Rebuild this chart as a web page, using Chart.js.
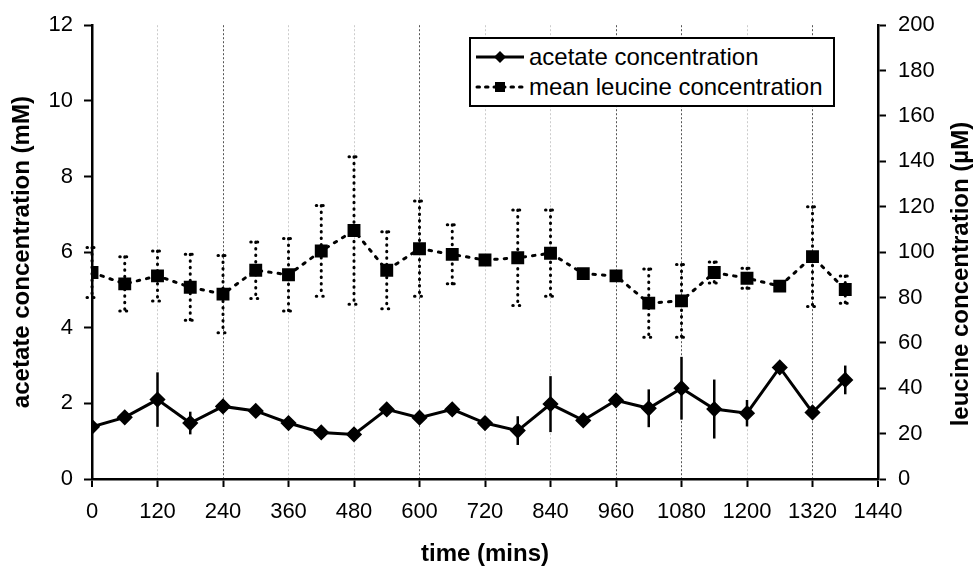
<!DOCTYPE html>
<html>
<head>
<meta charset="utf-8">
<script src="https://cdn.jsdelivr.net/npm/chart.js@4.4.1/dist/chart.umd.min.js"></script>
<style>
    html, body { margin: 0; padding: 0; background: #fff; }
    #wrap { position: relative; width: 977px; height: 569px; }
    #legend {
        position: absolute; left: 469px; top: 37px; width: 362px; height: 66px;
        border: 2px solid #000; background: #fff;
        font-family: "Liberation Sans", Arial, sans-serif; font-size: 24px; color: #000;
    }
    #legend .row { position: absolute; left: 4px; height: 30px; display: flex; align-items: center; white-space: nowrap; }
    #legend svg { margin-right: 4px; }
</style>
</head>
<body>
<div id="wrap">
    <canvas id="chart" width="977" height="569"></canvas>
    <div id="legend">
        <div class="row" style="top: 3px;">
            <svg width="50" height="14"><line x1="1" y1="7" x2="49" y2="7" stroke="#000" stroke-width="3"/><polygon points="25,1 31,7 25,13 19,7" fill="#000"/></svg>
            <span>acetate concentration</span>
        </div>
        <div class="row" style="top: 33px;">
            <svg width="50" height="14"><line x1="2" y1="7" x2="49" y2="7" stroke="#000" stroke-width="3" stroke-dasharray="2.5 6" stroke-linecap="round"/><rect x="20" y="2" width="10" height="10" fill="#000"/></svg>
            <span>mean leucine concentration</span>
        </div>
    </div>
</div>
<script>
// data
const times = [0, 60, 120, 180, 240, 300, 360, 420, 480, 540, 600, 660, 720, 780, 840, 900, 960, 1020, 1080, 1140, 1200, 1260, 1320, 1380];
const acetate = [1.38, 1.63, 2.1, 1.48, 1.92, 1.8, 1.48, 1.23, 1.18, 1.84, 1.62, 1.84, 1.48, 1.28, 1.98, 1.55, 2.08, 1.87, 2.4, 1.85, 1.74, 2.95, 1.76, 2.62];
const acetateErr = [0, 0, 0.72, 0.3, 0, 0, 0, 0, 0, 0, 0, 0, 0, 0.38, 0.74, 0, 0, 0.5, 0.83, 0.78, 0.35, 0, 0, 0.38];
const leucine = [91, 86, 89.5, 84.5, 81.5, 92, 90, 100.5, 109.5, 92, 101.5, 99, 96.5, 97.5, 99.5, 90.5, 89.5, 77.5, 78.5, 91, 88.5, 85, 98, 83.5];
const leucineErr = [11, 12, 11, 14.5, 17, 12.5, 16, 20, 32.5, 17, 21, 13, 0, 21, 19, 0, 0, 15, 16, 4.6, 4.4, 0, 22, 6];
const xTicks = [0, 120, 240, 360, 480, 600, 720, 840, 960, 1080, 1200, 1320, 1440];
const darkGrid = [240, 600, 960, 1080, 1320];

const FONT = '"Liberation Sans", Arial, sans-serif';

// vertical error bars drawn through the dataset's own y scale
const errorBars = {
    id: 'errorBars',
    afterDatasetsDraw(chart) {
        const ctx = chart.ctx;
        chart.data.datasets.forEach((ds, i) => {
            if (!ds.errors) return;
            const xs = chart.scales.x;
            const ys = chart.scales[ds.yAxisID];
            ctx.save();
            ctx.strokeStyle = '#000';
            ctx.lineWidth = ds.errDashed ? 3 : 2.5;
            ctx.lineCap = ds.errDashed ? 'round' : 'butt';
            ctx.setLineDash(ds.errDashed ? [0.5, 6] : []);
            ds.data.forEach((p, j) => {
                const e = ds.errors[j];
                if (!e) return;
                const x = xs.getPixelForValue(p.x);
                const y1 = ys.getPixelForValue(p.y + e);
                const y2 = ys.getPixelForValue(p.y - e);
                ctx.beginPath();
                ctx.moveTo(x, y1);
                ctx.lineTo(x, y2);
                if (ds.errDashed) {
                    ctx.moveTo(x - 5, y1); ctx.lineTo(x + 5, y1);
                    ctx.moveTo(x - 5, y2); ctx.lineTo(x + 5, y2);
                }
                ctx.stroke();
            });
            ctx.restore();
        });
    }
};

// right axis title reads bottom to top like the left one
const rightTitle = {
    id: 'rightTitle',
    afterDraw(chart) {
        const ctx = chart.ctx;
        const a = chart.chartArea;
        ctx.save();
        ctx.translate(961, (a.top + a.bottom) / 2 + 22);
        ctx.rotate(-Math.PI / 2);
        ctx.font = 'bold 24px ' + FONT;
        ctx.fillStyle = '#000';
        ctx.textAlign = 'center';
        ctx.textBaseline = 'middle';
        ctx.fillText('leucine concentration (\u00b5M)', 0, 0);
        ctx.restore();
    }
};

new Chart(document.getElementById('chart').getContext('2d'), {
    type: 'line',
    data: {
        datasets: [{
            label: 'acetate concentration',
            data: times.map((t, i) => ({ x: t, y: acetate[i] })),
            errors: acetateErr,
            yAxisID: 'y',
            borderColor: '#000',
            backgroundColor: '#000',
            borderWidth: 3,
            pointStyle: 'rectRot',
            pointRadius: 6,
            tension: 0
        }, {
            label: 'mean leucine concentration',
            data: times.map((t, i) => ({ x: t, y: leucine[i] })),
            errors: leucineErr,
            errDashed: true,
            yAxisID: 'y1',
            borderColor: '#000',
            backgroundColor: '#000',
            borderWidth: 3,
            borderDash: [2.5, 7],
            borderCapStyle: 'round',
            pointStyle: 'rect',
            pointRadius: 7,
            tension: 0
        }]
    },
    options: {
        responsive: false,
        animation: false,
        layout: { padding: { top: 24, left: 0, right: 0, bottom: 0 } },
        plugins: {
            legend: { display: false },
            tooltip: { enabled: false }
        },
        scales: {
            x: {
                type: 'linear',
                min: 0,
                max: 1440,
                afterFit: s => { s.height = 90; },
                afterBuildTicks: s => { s.ticks = xTicks.map(v => ({ value: v })); },
                ticks: { color: '#000', font: { family: FONT, size: 22 }, padding: 12, maxRotation: 0, callback: v => String(v) },
                grid: {
                    color: c => darkGrid.includes(c.tick.value) ? '#555' : '#cccccc',
                    lineWidth: c => (c.tick.value === 0 || c.tick.value === 1440) ? 0 : 1,
                    tickColor: '#000',
                    tickLength: 8,
                    tickWidth: 2
                },
                border: { color: '#000', width: 2.5, dash: [2, 2] },
                title: { display: true, text: 'time (mins)', color: '#000', font: { family: FONT, size: 24, weight: 'bold' }, padding: { top: 0, bottom: 0 } }
            },
            y: {
                position: 'left',
                min: 0,
                max: 12,
                afterFit: s => { s.width = 92; },
                ticks: { stepSize: 2, color: '#000', font: { family: FONT, size: 22 }, padding: 11 },
                grid: { drawOnChartArea: false, tickColor: '#000', tickLength: 8, tickWidth: 2 },
                border: { color: '#000', width: 2.5 },
                title: { display: true, text: 'acetate concentration (mM)', color: '#000', font: { family: FONT, size: 24, weight: 'bold' }, padding: { top: 8, bottom: 0 } }
            },
            y1: {
                position: 'right',
                min: 0,
                max: 200,
                afterFit: s => { s.width = 99; },
                ticks: { stepSize: 20, color: '#000', font: { family: FONT, size: 22 }, padding: 12 },
                grid: { drawOnChartArea: false, tickColor: '#000', tickLength: 8, tickWidth: 2 },
                border: { color: '#000', width: 2.5 }
            }
        }
    },
    plugins: [errorBars, rightTitle]
});
</script>
</body>
</html>
